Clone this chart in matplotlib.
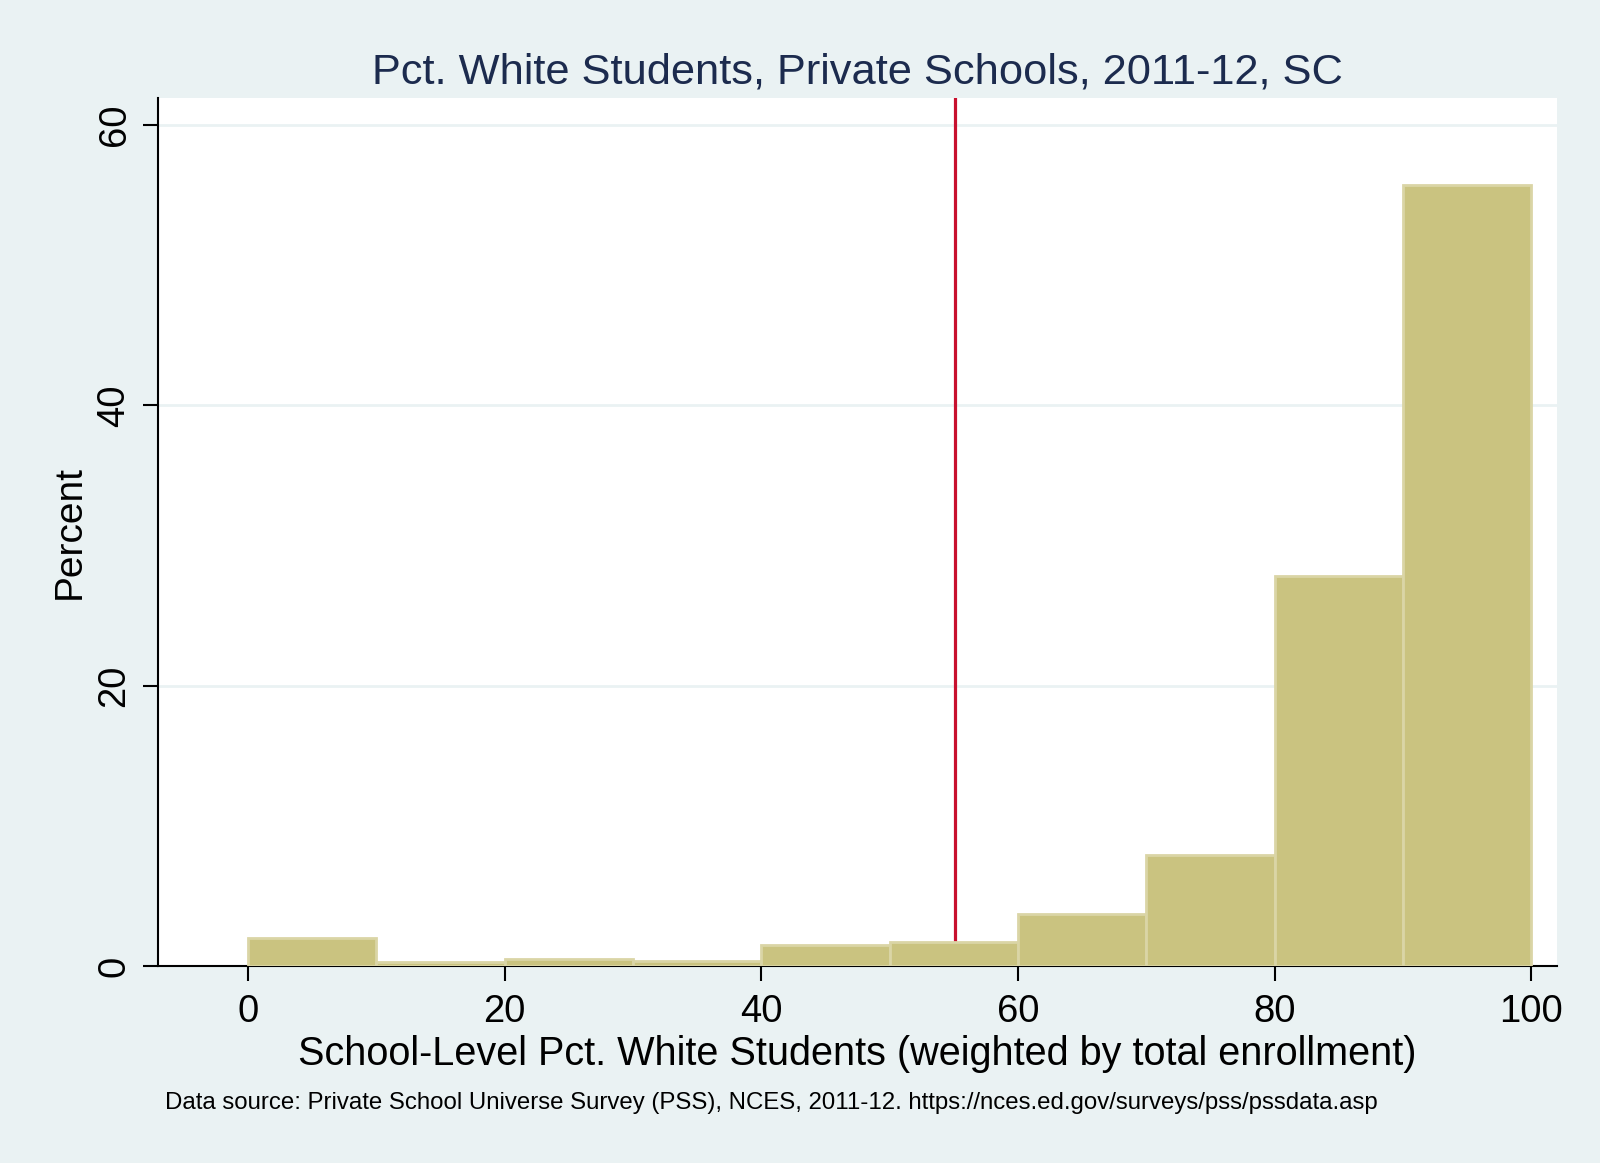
import matplotlib
matplotlib.use("Agg")
import matplotlib.pyplot as plt
import numpy as np

# ========================== Data ==========================
bin_left = [0, 10, 20, 30, 40, 50, 60, 70, 80, 90]
pct = [1.98, 0.26, 0.5, 0.36, 1.48, 1.71, 3.71, 7.9, 27.84, 55.7]
mean_line = 55.1
x_ticks = [0, 20, 40, 60, 80, 100]
y_ticks = [0, 20, 40, 60]

title_str = "Pct. White Students, Private Schools, 2011-12, SC"
xlabel_str = "School-Level Pct. White Students (weighted by total enrollment)"
ylabel_str = "Percent"
note_str = ("Data source: Private School Universe Survey (PSS), NCES, 2011-12. "
            "https://nces.ed.gov/surveys/pss/pssdata.asp")

# ========================== Settings ==========================
plt.rcParams["font.family"] = ["Liberation Sans", "DejaVu Sans"]
bg = "#EAF2F3"

# ========================== Plot ==========================
fig = plt.figure(figsize=(16, 11.63), dpi=100, facecolor=bg)
ax = fig.add_axes([0.0989, 0.1694, 0.8742, 0.7461])
ax.set_facecolor("white")

ax.bar(bin_left, pct, width=10, align="edge", color="#CAC380",
       edgecolor="#DAD5A6", linewidth=2, zorder=3)
ax.axvline(mean_line, color="#C8102E", lw=2.3, zorder=2)

ax.set_xlim(-7, 102)
ax.set_ylim(0, 61.9)
ax.set_xticks(x_ticks)
ax.set_yticks(y_ticks)

ax.yaxis.grid(True, color=bg, lw=2, zorder=1)
ax.set_axisbelow(True)

for s in ["top", "right"]:
    ax.spines[s].set_visible(False)
for s in ["left", "bottom"]:
    ax.spines[s].set_linewidth(1.5)
    ax.spines[s].set_color("black")

ax.tick_params(axis="both", length=11, width=1.5, labelsize=27.5)
ax.tick_params(axis="x", pad=9.5)
ax.tick_params(axis="y", labelrotation=90, pad=7.5)
for lbl in ax.get_yticklabels():
    lbl.set_verticalalignment("center")

ax.set_xlabel(xlabel_str, fontsize=28.5, va="baseline")
ax.xaxis.set_label_coords(0.5, -0.1141)
ax.set_ylabel(ylabel_str, fontsize=28, va="baseline")
ax.yaxis.set_label_coords(-0.056, 0.5)

fig.text(0.5359, 0.9284, title_str, fontsize=31.2, color="#1C2B4E",
         ha="center", va="baseline")
fig.text(0.1031, 0.0464, note_str, fontsize=17.3, ha="left", va="baseline")

fig.savefig("out.png", dpi=100, facecolor=bg)
